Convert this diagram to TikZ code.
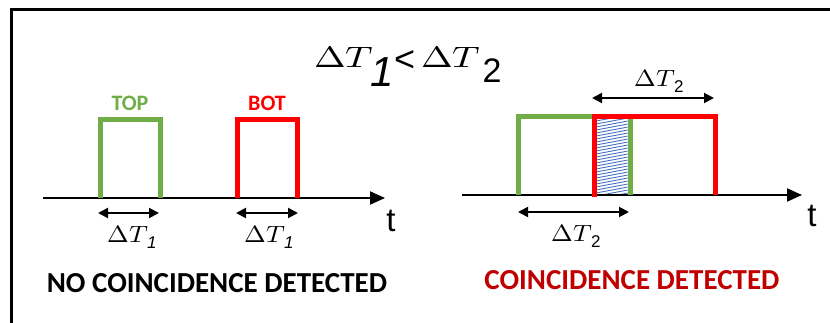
\documentclass[tikz,border=0pt]{standalone}
\usepackage{fontspec}
\usepackage{unicode-math}
\setmainfont{Carlito}
\setsansfont{Liberation Sans}
\setmathfont{Latin Modern Math}
\usetikzlibrary{arrows.meta, positioning}

\definecolor{topgreen}{HTML}{70AD47}
\definecolor{botred}{HTML}{FF0000}
\definecolor{hitred}{HTML}{C00000}
\definecolor{hatchblue}{HTML}{4472C4}

% Delta T, stretched like the original drawing
\newcommand{\dtsym}[2]{\scalebox{#1}[#2]{\normalsize$\Delta T$}}
\newcommand{\dtone}{\dtsym{2.6}{2.35}\kern-1pt\raisebox{-6pt}{\fontsize{17}{17}\selectfont\sffamily\itshape 1}}
\newcommand{\dttwo}{\dtsym{2.6}{2.35}\kern-1pt\raisebox{-6pt}{\fontsize{17}{17}\selectfont\sffamily 2}}

\begin{document}
\begin{tikzpicture}[
    x=1pt, y=-1pt,
    pulse/.style={line width=5pt, line join=miter},
    axis/.style={line width=2pt, -{Triangle[length=15pt, width=13pt]}},
    width arrow/.style={line width=2pt, {Triangle[length=10pt, width=10pt]}-{Triangle[length=10pt, width=10pt]}},
    dtlabel/.style={inner sep=0pt},
    caption/.style={font=\fontsize{29}{29}\selectfont\bfseries, inner sep=0pt},
    tlabel/.style={font=\fontsize{33}{33}\selectfont\sffamily, inner sep=0pt}
]
    \useasboundingbox (0,0) rectangle (830,323);
    % frame
    \draw[line width=3pt] (11,323) -- (11,10) -- (830,10);

    % title
    \node[inner sep=0pt, anchor=base west] (title) at (314,68)
        {\dtsym{3.8}{2.95}\kern-3pt\raisebox{-19pt}{\fontsize{42}{42}\selectfont\sffamily\itshape 1}%
         \raisebox{-4pt}{\fontsize{36}{36}\selectfont\sffamily <}\kern6pt%
         \dtsym{3.8}{2.95}\kern2pt\raisebox{-15pt}{\fontsize{34}{34}\selectfont\sffamily 2}};

    % left: no coincidence
    \coordinate (axisA) at (43,198);
    \coordinate (axisB) at (385,198);
    \draw[axis] (axisA) -- (axisB);
    \node[tlabel] (tA) at (391,221) {t};

    \draw[pulse, topgreen] (100,198) -- (100,120) -- (160,120) -- (160,198);
    \draw[pulse, botred] (237,198) -- (237,120) -- (297,120) -- (297,198);
    \node[font=\fontsize{22}{22}\selectfont\bfseries, text=topgreen, inner sep=0pt] (top) at (130,103) {TOP};
    \node[font=\fontsize{22}{22}\selectfont\bfseries, text=botred, inner sep=0pt] (bot) at (267,103) {BOT};

    \coordinate (w1l) at (98,213);
    \coordinate (w1r) at (159,213);
    \coordinate (w2l) at (236,213);
    \coordinate (w2r) at (298,213);
    \draw[width arrow] (w1l) -- (w1r);
    \draw[width arrow] (w2l) -- (w2r);
    \node[dtlabel] (dtA) at (132,237) {\dtone};
    \node[dtlabel] (dtB) at (269,237) {\dtone};

    \node[caption] (nocoinc) at (217,283) {NO COINCIDENCE DETECTED};

    % right: coincidence
    \coordinate (axisC) at (462,195);
    \coordinate (axisD) at (802,195);
    \draw[axis] (axisC) -- (axisD);
    \node[tlabel] (tB) at (812,216) {t};

    \draw[pulse, topgreen] (518,195) -- (518,117) -- (630,117) -- (630,195);
    \begin{scope}
        \clip (596,119.5) rectangle (627.5,194);
        \foreach \y in {115,118,...,205}
            \draw[hatchblue, line width=0.9pt] (596,\y) -- (628,\y-6);
    \end{scope}
    \draw[pulse, botred] (594,197) -- (594,117) -- (715,117) -- (715,195);

    \coordinate (w3l) at (592,98);
    \coordinate (w3r) at (714,98);
    \coordinate (w4l) at (518,212);
    \coordinate (w4r) at (629,212);
    \draw[width arrow] (w3l) -- (w3r);
    \draw[width arrow] (w4l) -- (w4r);
    \node[dtlabel] (dtC) at (659,81) {\dttwo};
    \node[dtlabel] (dtD) at (576,236) {\dttwo};

    \node[caption, text=hitred] (coinc) at (632,280) {COINCIDENCE DETECTED};
\end{tikzpicture}
\end{document}
